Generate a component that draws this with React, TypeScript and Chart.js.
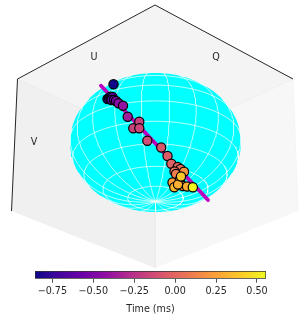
import React, { useEffect, useRef } from "react";
import { Chart, registerables } from "chart.js";

Chart.register(...registerables);

// ---- data ----
const pointX = [113.5, 107.5, 109, 110.5, 111, 112.5, 111.5, 114, 116, 118.5, 123, 127.7, 133.3, 139.3, 139.3, 147.3, 161.2, 167.5, 171.3, 177.7, 180.5, 174.5, 176, 184, 172.5, 180, 174.3, 183, 178, 187, 181, 192.8];
const pointY = [84.3, 99, 98, 96.8, 98.5, 97, 100, 100, 101, 103.3, 105.7, 116.7, 128.3, 121.7, 128.3, 140.7, 147.5, 156, 163.7, 167, 169, 171.5, 174, 171.7, 182.5, 179.5, 187.3, 186, 184.5, 186.5, 176.5, 187.3];
const pointTime = [-0.85, -0.74, -0.72, -0.7, -0.68, -0.66, -0.64, -0.6, -0.52, -0.46, -0.42, -0.36, -0.17, -0.18, -0.15, -0.12, -0.07, -0.05, -0.02, 0.0, 0.03, 0.06, 0.1, 0.2, 0.24, 0.28, 0.33, 0.27, 0.31, 0.3, 0.39, 0.55];
const trackX = [101, 154.5, 208];
const trackY = [85.7, 142.5, 200];
const plasmaStops = ["#0d0887", "#41049d", "#6a00a8", "#8f0da4", "#b12a90", "#cc4778", "#e16462", "#f2844b", "#fca636", "#fcce25", "#f0f921"];
const colorbarTicks = [-0.75, -0.5, -0.25, 0, 0.25, 0.5];
const colorbarMin = -0.856;
const colorbarMax = 0.555;
const axisLabels = ["U", "Q", "V"];
const axisLabelX = [94, 216, 34];
const axisLabelY = [57, 57, 142.5];
const paneTopX = [155, 293, 155, 17.5];
const paneTopY = [5, 79, 143, 79];
const paneLeftX = [17.5, 155, 155, 11.5];
const paneLeftY = [79, 143, 268, 211];
const paneRightX = [293, 155, 155, 298];
const paneRightY = [79, 143, 268, 211];
const topEdgeX = [17.5, 155, 293];
const topEdgeY = [79, 5, 79];
const leftEdgeX = [17.5, 11.5];
const leftEdgeY = [79, 211];
const rightEdgeX = [293, 298];
const rightEdgeY = [79, 211];
const seamX = [155, 155];
const seamY = [143, 268];
const latitudes = [-71.05, -52.1, -33.15, -14.2, 4.75, 23.7, 42.65, 61.6, 80.55];
const longitudes = [9.47, 28.42, 47.37, 66.32, 85.26, 104.21, 123.16, 142.11, 161.05, 180, 198.95, 217.89, 236.84, 255.79, 274.74, 293.68, 312.63, 331.58, 350.53];

// ---- sphere layout ----
const CX = 155.5, CY = 142.5, RX = 85.5, RY = 69.5;
const ELEV = (32 * Math.PI) / 180;

type P = { x: number; y: number };

const project = (latDeg: number, lonDeg: number) => {
  const lat = (latDeg * Math.PI) / 180;
  const lon = (lonDeg * Math.PI) / 180;
  const X = Math.cos(lat) * Math.sin(lon);
  const Yd = Math.cos(lat) * Math.cos(lon);
  const Z = Math.sin(lat);
  return {
    x: CX + RX * X,
    y: CY - RY * (Yd * Math.sin(ELEV) + Z * Math.cos(ELEV)),
    depth: Yd * Math.cos(ELEV) - Z * Math.sin(ELEV),
  };
};

const visibleRuns = (fn: (t: number) => ReturnType<typeof project>, from: number, to: number, step: number) => {
  const runs: P[][] = [];
  let cur: P[] = [];
  for (let t = from; t <= to; t += step) {
    const p = fn(t);
    if (p.depth >= 0) cur.push({ x: p.x, y: p.y });
    else {
      if (cur.length > 1) runs.push(cur);
      cur = [];
    }
  }
  if (cur.length > 1) runs.push(cur);
  return runs;
};

const zip = (xs: number[], ys: number[]) => xs.map((x, i) => ({ x, y: ys[i] }));

const hexToRgb = (h: string) => [1, 3, 5].map((i) => parseInt(h.slice(i, i + 2), 16));
const plasma = (t: number) => {
  const c = Math.min(1, Math.max(0, t)) * (plasmaStops.length - 1);
  const i = Math.min(plasmaStops.length - 2, Math.floor(c));
  const a = hexToRgb(plasmaStops[i]);
  const b = hexToRgb(plasmaStops[i + 1]);
  const f = c - i;
  return `rgb(${a.map((v, k) => Math.round(v + (b[k] - v) * f)).join(",")})`;
};

const FONT = "'DejaVu Sans'";
const TEXT = "#262626";

const labelPlugin = {
  id: "axisNames",
  afterDraw(chart: any) {
    const { ctx, scales } = chart;
    ctx.save();
    ctx.font = `9.6px ${FONT}`;
    ctx.fillStyle = TEXT;
    ctx.textAlign = "center";
    ctx.textBaseline = "middle";
    axisLabels.forEach((s, i) => ctx.fillText(s, scales.x.getPixelForValue(axisLabelX[i]), scales.y.getPixelForValue(axisLabelY[i])));
    ctx.restore();
  },
};

const poly = (xs: number[], ys: number[], color: string) => ({
  data: zip(xs, ys), showLine: true, fill: "shape", backgroundColor: color, borderColor: color, borderWidth: 0, pointRadius: 0,
});
const edge = (xs: number[], ys: number[], color: string, w: number) => ({
  data: zip(xs, ys), showLine: true, fill: false, borderColor: color, borderWidth: w, pointRadius: 0,
});

export default function App() {
  const mainRef = useRef<HTMLCanvasElement>(null);
  const barRef = useRef<HTMLCanvasElement>(null);

  useEffect(() => {
    const ellipse: P[] = [];
    for (let a = 0; a <= 360; a += 3) {
      ellipse.push({ x: CX + RX * Math.cos((a * Math.PI) / 180), y: CY + RY * Math.sin((a * Math.PI) / 180) });
    }
    const gridRuns: P[][] = [];
    latitudes.forEach((lat) => gridRuns.push(...visibleRuns((t) => project(lat, t), -180, 180, 2)));
    longitudes.forEach((lon) => gridRuns.push(...visibleRuns((t) => project(t, lon), -90, 90, 2)));

    // bottom layer first; order is assigned below so that later entries draw on top
    const layers: any[] = [
      poly(paneTopX, paneTopY, "#f4f4f4"),
      poly(paneLeftX, paneLeftY, "#f0f0f0"),
      poly(paneRightX, paneRightY, "#f7f7f7"),
      edge(paneTopX.slice(1, 3), paneTopY.slice(1, 3), "#ececec", 0.8),
      edge([paneTopX[3], paneTopX[2]], [paneTopY[3], paneTopY[2]], "#e8e8e8", 0.8),
      edge(seamX, seamY, "#ebebeb", 0.8),
      edge(rightEdgeX, rightEdgeY, "#f2f2f2", 0.8),
      edge(topEdgeX, topEdgeY, "#262626", 1),
      edge(leftEdgeX, leftEdgeY, "#262626", 1),
      { data: ellipse, showLine: true, fill: "shape", backgroundColor: "#00ffff", borderColor: "#00ffff", borderWidth: 0, pointRadius: 0 },
      ...gridRuns.map((r) => ({ data: r, showLine: true, fill: false, borderColor: "rgba(255,255,255,0.9)", borderWidth: 0.8, pointRadius: 0 })),
      { data: zip(trackX, trackY), showLine: true, fill: false, borderColor: "#bf00bf", borderWidth: 3.8, borderCapStyle: "round", pointRadius: 0 },
      {
        data: zip(pointX, pointY),
        showLine: false,
        pointRadius: 4.6,
        pointBorderWidth: 1.2,
        pointBorderColor: "#000",
        pointBackgroundColor: pointTime.map((t) => plasma((t - colorbarMin) / (colorbarMax - colorbarMin))),
      },
    ];
    layers.forEach((d, i) => (d.order = layers.length - i));

    const main = new Chart(mainRef.current!, {
      type: "scatter",
      data: { datasets: layers },
      options: {
        responsive: false,
        animation: false,
        events: [],
        layout: { padding: 0, autoPadding: false },
        plugins: { legend: { display: false }, tooltip: { enabled: false } },
        scales: {
          x: { type: "linear", min: 0, max: 301, display: false },
          y: { type: "linear", min: 0, max: 315, reverse: true, display: false },
        },
      },
      plugins: [labelPlugin],
    } as any);

    const barLeft = 35, barRight = 35;
    const barCtx = barRef.current!.getContext("2d")!;
    const grad = barCtx.createLinearGradient(barLeft, 0, 301 - barRight, 0);
    plasmaStops.forEach((c, i) => grad.addColorStop(i / (plasmaStops.length - 1), c));

    const bar = new Chart(barRef.current!, {
      type: "bar",
      data: {
        labels: [""],
        datasets: [
          {
            data: [[colorbarMin, colorbarMax]],
            backgroundColor: grad,
            borderColor: "#333333",
            borderWidth: 1,
            borderSkipped: false,
            barPercentage: 1,
            categoryPercentage: 1,
          },
        ],
      },
      options: {
        indexAxis: "y",
        responsive: false,
        animation: false,
        events: [],
        layout: { padding: { left: barLeft, right: barRight, top: 7, bottom: 0 }, autoPadding: false },
        plugins: { legend: { display: false }, tooltip: { enabled: false } },
        scales: {
          y: { display: false },
          x: {
            type: "linear",
            min: colorbarMin,
            max: colorbarMax,
            afterBuildTicks: (axis: any) => {
              axis.ticks = colorbarTicks.map((value) => ({ value }));
            },
            afterFit: (axis: any) => {
              axis.height = 36.3;
            },
            grid: { drawOnChartArea: false, drawTicks: true, tickLength: 4, tickColor: TEXT, tickWidth: 0.8 },
            border: { display: false },
            ticks: {
              autoSkip: false,
              maxRotation: 0,
              padding: 3,
              color: TEXT,
              font: { family: FONT, size: 9.6 },
              callback: (v: any) => Number(v).toFixed(2).replace("-", "\u2212"),
            },
            title: { display: true, text: "Time (ms)", color: TEXT, font: { family: FONT, size: 9.6 }, padding: { top: 3, bottom: 0 } },
          },
        },
      },
    } as any);

    return () => {
      main.destroy();
      bar.destroy();
    };
  }, []);

  return (
    <div style={{ position: "absolute", left: 0, top: 0, width: 301, height: 315, background: "#fff", overflow: "hidden", filter: "blur(0.35px)" }}>
      <canvas ref={mainRef} width={301} height={315} style={{ position: "absolute", left: 0, top: 0 }} />
      <canvas ref={barRef} width={301} height={51} style={{ position: "absolute", left: 0, top: 264 }} />
    </div>
  );
}
